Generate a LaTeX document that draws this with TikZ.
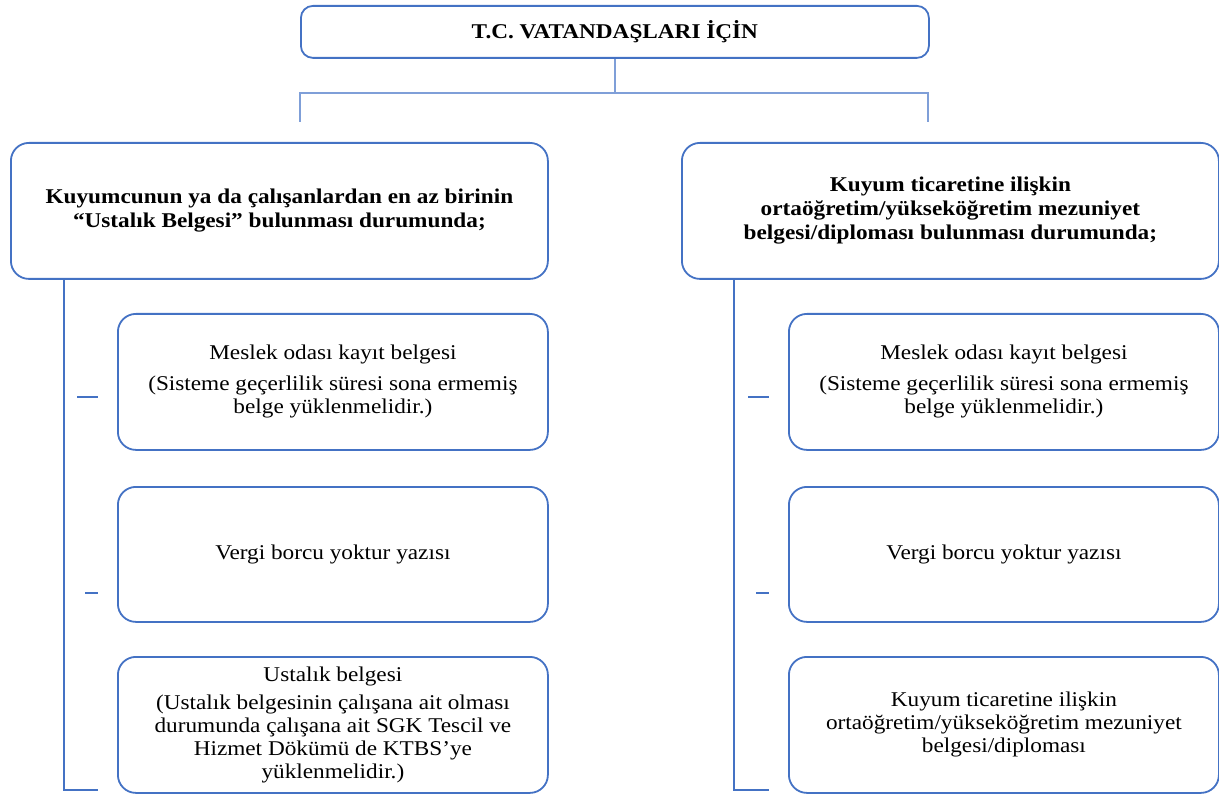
\documentclass[tikz,border=0pt]{standalone}
\usepackage{fontspec}
\setmainfont{Liberation Serif}[FakeStretch=1.107]
\usepackage{tikz}
\usetikzlibrary{positioning,calc}
\definecolor{boxblue}{HTML}{4472C4}
\definecolor{linkblue}{HTML}{7F9FD8}
\tikzstyle{rbox} = [draw=boxblue, line width=1.8pt, rounded corners=18pt, align=center, anchor=north west, inner sep=0pt]
\tikzstyle{headbox} = [rbox, minimum width=537pt, minimum height=136pt, font=\fontsize{21}{24}\selectfont\bfseries]
\tikzstyle{itembox} = [rbox, minimum width=430pt, minimum height=136pt, font=\fontsize{21}{23}\selectfont]
\tikzstyle{link} = [draw=linkblue, line width=1.3pt]
\tikzstyle{spine} = [draw=boxblue, line width=1.8pt]

\begin{document}
\begin{tikzpicture}[x=1pt,y=-1pt]
\useasboundingbox (0,0) rectangle (1219,794);
% top
\node[rbox, rounded corners=12pt, minimum width=628pt, minimum height=52pt,
      font=\fontsize{21}{23}\selectfont\bfseries] (title) at (300,5) {T.C. VATANDAŞLARI İÇİN};
% two cases
\node[headbox] (usta) at (10,142)
   {Kuyumcunun ya da çalışanlardan en az birinin\\“Ustalık Belgesi” bulunması durumunda;};
\node[headbox] (mezun) at (681,142)
   {Kuyum ticaretine ilişkin\\ortaöğretim/yükseköğretim mezuniyet\\belgesi/diploması bulunması durumunda;};
% left items
\node[itembox] (oda1) at (117,313)
   {Meslek odası kayıt belgesi\\[8pt](Sisteme geçerlilik  süresi sona ermemiş\\belge yüklenmelidir.)};
\node[itembox, minimum height=135pt] (vergi1) at (117,486) {Vergi borcu yoktur yazısı};
\node[itembox] (ustabelge) at (117,656)
   {Ustalık  belgesi\\[5pt](Ustalık  belgesinin çalışana ait olması\\durumunda çalışana ait SGK Tescil  ve\\Hizmet Dökümü de KTBS’ye\\yüklenmelidir.)};
% right items
\node[itembox] (oda2) at (788,313)
   {Meslek odası kayıt belgesi\\[8pt](Sisteme geçerlilik  süresi sona ermemiş\\belge yüklenmelidir.)};
\node[itembox, minimum height=135pt] (vergi2) at (788,486) {Vergi borcu yoktur yazısı};
\node[itembox] (diploma) at (788,656)
   {Kuyum ticaretine  ilişkin\\ortaöğretim/yükseköğretim  mezuniyet\\belgesi/diploması};

% connectors from the top
\coordinate (hl) at (300,93);
\coordinate (hr) at (928,93);
\coordinate (el) at (300,122);
\coordinate (er) at (928,122);
\draw[link] (title.south) |- (hl) -- (el);
\draw[link] (title.south) |- (hr) -- (er);

% spines
\coordinate (lend) at (98,790);
\coordinate (rend) at (769,790);
\draw[spine] ([xshift=54pt]usta.south west) |- (lend);
\draw[spine] ([xshift=53pt]mezun.south west) |- (rend);
% small ticks
\coordinate (la1) at (77,397);  \coordinate (lb1) at (98,397);
\coordinate (la2) at (85,593);  \coordinate (lb2) at (98,593);
\coordinate (ra1) at (748,397); \coordinate (rb1) at (769,397);
\coordinate (ra2) at (756,593); \coordinate (rb2) at (769,593);
\draw[spine] (la1) -- (lb1);
\draw[spine] (la2) -- (lb2);
\draw[spine] (ra1) -- (rb1);
\draw[spine] (ra2) -- (rb2);
\end{tikzpicture}
\end{document}
